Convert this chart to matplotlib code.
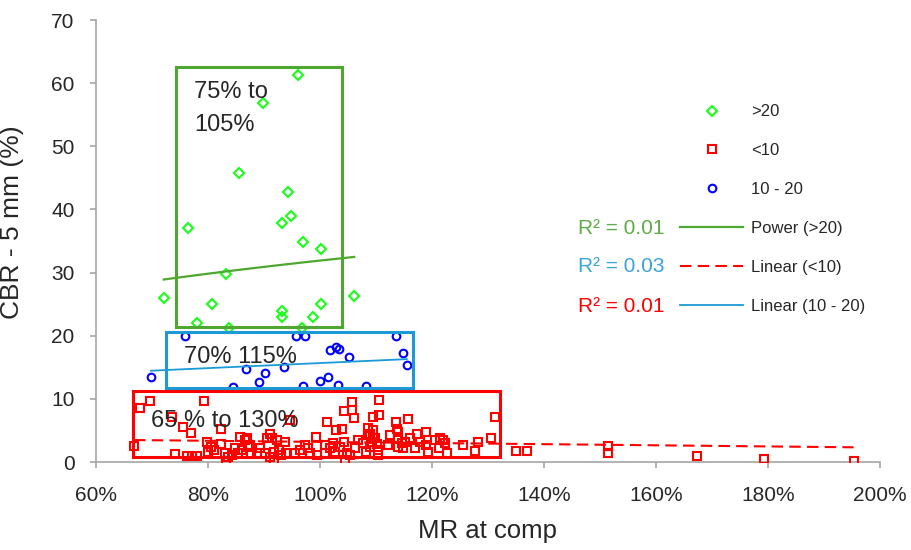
import numpy as np
import matplotlib
matplotlib.use("Agg")
import matplotlib.pyplot as plt
from matplotlib.lines import Line2D
from matplotlib.patches import Rectangle
from matplotlib.ticker import FuncFormatter

plt.rcParams['font.family'] = ['Liberation Sans', 'DejaVu Sans']

# CBR > 20 group
green_x = [96.1, 89.8, 85.5, 94.2, 93.3, 94.9, 76.5, 96.9, 100.1, 83.2,
           72.1, 106.1, 80.7, 100.1, 93.3, 93.3, 98.8, 78.0, 83.8, 96.7]
green_y = [61.3, 56.8, 45.8, 42.8, 37.9, 38.9, 37.1, 34.8, 33.7, 29.7,
           26.0, 26.3, 25.0, 25.0, 23.9, 22.9, 22.9, 22.0, 21.2, 21.2]

# CBR 10 - 20 group
blue_x = [75.9, 95.8, 97.3, 113.6, 114.8, 115.5, 101.8, 102.9, 103.4, 105.2,
          69.8, 86.8, 90.2, 89.1, 93.5, 100.0, 101.5, 103.3, 84.5, 97.0, 108.3]
blue_y = [19.9, 19.9, 19.9, 19.9, 17.2, 15.4, 17.7, 18.2, 17.9, 16.6,
          13.4, 14.8, 14.1, 12.7, 15.0, 12.9, 13.5, 12.2, 11.8, 12.1, 12.0]

# CBR < 10 group
red_x = [69.6, 67.9, 79.3, 73.5, 75.6, 76.9, 82.3, 66.8, 74.1, 76.2,
         77.1, 78.0, 79.8, 80.5, 81.1, 80.0, 82.4, 83.0, 83.6, 83.3,
         84.8, 85.7, 86.6, 86.0, 84.2, 85.4, 87.5, 87.7,
         105.7, 104.3, 105.7, 106.1, 101.2, 102.8, 103.9, 91.1, 91.4, 90.5,
         92.4, 93.75, 99.2, 86.9, 87.2, 89.3, 90.2, 88.7, 91.7, 92.6,
         93.1, 94.0, 91.7, 91.1, 95.5, 96.4, 97.3, 97.9, 98.2, 99.4,
         100.9, 100.9, 102.4, 101.8, 102.7, 103.6, 104.3, 104.8, 104.5, 105.4,
         106.25, 106.8, 107.7, 108.3, 108.9, 109.5, 109.5, 94.6, 109.5,
         110.5, 110.5, 115.8, 113.5, 113.7, 108.6, 108.6, 112.5, 114.0, 109.8,
         109.2, 110.1, 108.9, 110.4, 110.4, 112.2, 114.0, 114.6, 115.2, 114.0,
         114.9, 116.1, 117.3, 119.0, 117.0, 117.9, 119.0, 119.3, 120.5, 121.4,
         122.0, 122.3, 121.25, 122.6, 125.6, 127.7, 128.3, 130.5, 131.25,
         135.0, 136.9, 151.4, 151.4, 167.4, 179.3, 195.3]
red_y = [9.7, 8.6, 9.7, 7.2, 5.6, 4.6, 5.2, 2.6, 1.3, 0.95,
         0.95, 0.95, 3.2, 2.4, 1.9, 1.6, 2.8, 1.4, 0.85, 0.1,
         2.2, 4.0, 3.5, 1.9, 1.1, 1.4, 2.7, 1.2,
         9.5, 8.1, 8.2, 7.0, 6.3, 5.1, 5.3, 4.5, 3.75, 3.75,
         3.5, 3.2, 3.9, 3.8, 2.4, 2.2, 1.4, 1.4, 1.6, 1.9,
         1.1, 1.4, 0.05, 0.85, 1.4, 1.9, 2.7, 2.2, 1.4, 1.1,
         1.4, 2.7, 3.0, 2.2, 1.6, 2.4, 3.2, 1.4, 0.3, 1.1,
         2.2, 3.5, 3.0, 1.6, 4.5, 3.75, 7.2, 6.7, 5.1,
         9.8, 7.4, 6.8, 6.3, 5.3, 5.4, 4.3, 4.3, 4.8, 3.85,
         3.2, 2.8, 2.4, 1.9, 1.1, 2.7, 3.75, 3.0, 3.2, 2.4,
         2.2, 3.75, 4.4, 4.7, 2.2, 3.2, 2.7, 1.6, 3.5, 3.75,
         3.5, 3.0, 2.2, 1.4, 2.7, 1.7, 3.2, 3.75, 7.2,
         1.7, 1.7, 2.5, 1.5, 0.9, 0.4, 0.1]

# trendline parameters (Excel)
green_pow = (7.94, 0.302)      # y = a * x^b
blue_lin = (0.0402, 11.65)     # y = m*x + c
red_lin = (-0.00894, 4.075)

# highlight boxes: (x0, x1, y0, y1)
green_box = (74.3, 104.0, 21.4, 62.6)
blue_box = (72.5, 116.7, 11.7, 20.6)
red_box = (66.6, 132.1, 0.8, 11.2)

c_green_pt = '#1aff1a'
c_green = '#4ea72e'
c_blue_pt = '#0000ff'
c_blue = '#1b9ad6'
c_red = '#ff0000'
c_axis = '#a6a6a6'
c_text = '#262626'

fig = plt.figure(figsize=(9.12, 5.5), dpi=100)
ax = fig.add_axes([0.10526, 0.16, 0.8596, 0.8036])

ax.plot(green_x, green_y, ls='none', marker='D', ms=5, mfc='none',
        mec=c_green_pt, mew=1.5, zorder=3)
ax.plot(red_x, red_y, ls='none', marker='s', ms=5.5, mfc='none',
        mec=c_red, mew=1.5, zorder=3)
ax.plot(blue_x, blue_y, ls='none', marker='o', ms=5.5, mfc='none',
        mec=c_blue_pt, mew=1.5, zorder=3)

# trendlines over the data range
gx = np.linspace(min(green_x), max(green_x), 50)
ax.plot(gx, green_pow[0] * gx ** green_pow[1], color=c_green, lw=1.6, zorder=4)
bx = np.array([min(blue_x), max(blue_x)])
ax.plot(bx, blue_lin[0] * bx + blue_lin[1], color=c_blue, lw=1.3, zorder=4)
rx = np.array([min(red_x), max(red_x)])
ax.plot(rx, red_lin[0] * rx + red_lin[1], color=c_red, lw=1.5,
        dashes=(5.5, 3), zorder=4)

for box, col in [(green_box, c_green), (blue_box, c_blue), (red_box, c_red)]:
    ax.add_patch(Rectangle((box[0], box[2]), box[1] - box[0], box[3] - box[2],
                           fill=False, ec=col, lw=2.2, zorder=5))

ax.text(77.5, 60.4, '75% to\n105%', fontsize=17, color=c_text, va='top',
        ha='left', linespacing=1.68, zorder=6)
ax.text(75.7, 18.4, '70% 115%', fontsize=17, color=c_text, va='top',
        ha='left', zorder=6)
ax.text(69.8, 8.3, '65 % to 130%', fontsize=17, color=c_text, va='top',
        ha='left', zorder=6)

ax.set_xlim(60, 200)
ax.set_ylim(0, 70)
ax.set_xticks(np.arange(60, 201, 20))
ax.set_yticks(np.arange(0, 71, 10))
ax.xaxis.set_major_formatter(FuncFormatter(lambda v, p: f'{v:.0f}%'))
for s in ['top', 'right']:
    ax.spines[s].set_visible(False)
for s in ['left', 'bottom']:
    ax.spines[s].set_color(c_axis)
    ax.spines[s].set_linewidth(1.2)
ax.tick_params(axis='both', direction='out', length=4.5, width=1.2,
               color=c_axis, labelsize=15, labelcolor=c_text)
ax.tick_params(axis='x', pad=13)
ax.tick_params(axis='y', pad=11)

ax.set_xlabel('MR at comp', fontsize=18.5, color=c_text)
ax.set_ylabel('CBR - 5 mm (%)', fontsize=19, color=c_text)
ax.xaxis.set_label_coords(0.5, -0.13)
ax.yaxis.set_label_coords(-0.092, 0.543)

handles = [
    Line2D([], [], ls='none', marker='D', ms=5, mfc='none', mec=c_green_pt, mew=1.5),
    Line2D([], [], ls='none', marker='s', ms=5.5, mfc='none', mec=c_red, mew=1.5),
    Line2D([], [], ls='none', marker='o', ms=5.5, mfc='none', mec=c_blue_pt, mew=1.5),
    Line2D([], [], color=c_green, lw=1.6),
    Line2D([], [], color=c_red, lw=1.5, dashes=(5.5, 3)),
    Line2D([], [], color=c_blue, lw=1.3),
]
labels = ['>20', '<10', '10 - 20', 'Power (>20)', 'Linear (<10)', 'Linear (10 - 20)']
leg = fig.legend(handles, labels, loc='upper left',
                 bbox_to_anchor=(680 / 912, 1 - 104.5 / 550), frameon=False,
                 fontsize=12, handlelength=3.8, handletextpad=0.45,
                 labelspacing=1.43, borderpad=0, borderaxespad=0)
for t in leg.get_texts():
    t.set_color(c_text)

r2_text = ['R² = 0.01', 'R² = 0.03', 'R² = 0.01']
r2_cols = ['#5cad45', '#3aa4dc', c_red]
r2_ypix = [228, 267, 306]
for txt, col, yp in zip(r2_text, r2_cols, r2_ypix):
    fig.text(578 / 912, 1 - yp / 550, txt, fontsize=15, color=col,
             va='center', ha='left')

fig.savefig('out.png', dpi=100)
